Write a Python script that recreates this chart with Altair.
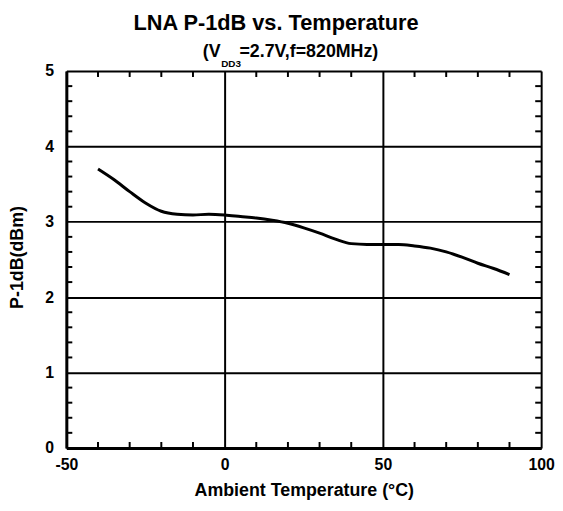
import altair as alt
import pandas as pd

temps = [-40, -35, -30, -25, -20, -15, -10, -5, 0, 5, 10, 15, 20, 25, 30, 35, 40, 45, 50, 55, 60, 65, 70, 75, 80, 85, 90]
p1db = [3.70, 3.56, 3.40, 3.25, 3.14, 3.10, 3.09, 3.10, 3.09, 3.07, 3.05, 3.02, 2.98, 2.92, 2.85, 2.77, 2.71, 2.70, 2.70, 2.70, 2.68, 2.65, 2.60, 2.53, 2.45, 2.38, 2.30]

x_major = [-50, 0, 50, 100]
y_major = [0, 1, 2, 3, 4, 5]
x_minor = [-40, -30, -20, -10, 10, 20, 30, 40, 60, 70, 80, 90]
y_minor = [0.2, 0.4, 0.6, 0.8, 1.2, 1.4, 1.6, 1.8, 2.2, 2.4, 2.6, 2.8,
           3.2, 3.4, 3.6, 3.8, 4.2, 4.4, 4.6, 4.8]

title_text = "LNA P-1dB vs. Temperature"
sub_parts = ["(V", "DD3", "=2.7V,f=820MHz)"]
x_title = "Ambient Temperature (°C)"
y_title = "P-1dB(dBm)"

FONT = "Liberation Sans"
W, H = 480, 381

df = pd.DataFrame({"t": temps, "p": p1db})
xs = alt.Scale(domain=[-50, 100], nice=False)
ys = alt.Scale(domain=[0, 5], nice=False)

x_axis = alt.Axis(values=x_major, grid=True, gridColor="black", gridWidth=2, gridOpacity=1,
                  domainColor="black", domainWidth=3, ticks=False, labelPadding=9,
                  labelExpr="'' + datum.value",
                  labelFont=FONT, labelFontSize=16, labelFontWeight="bold", labelColor="black",
                  title=x_title, titleFont=FONT, titleFontSize=18,
                  titleFontWeight="bold", titleColor="black",
                  titleX=W / 2, titleY=48, titleBaseline="alphabetic", titleAlign="center",
                  labelFlush=False, labelOverlap=False)
y_axis = alt.Axis(values=y_major, grid=True, gridColor="black", gridWidth=2, gridOpacity=1,
                  domainColor="black", domainWidth=3, ticks=False, labelPadding=13,
                  labelExpr="'' + datum.value",
                  labelFont=FONT, labelFontSize=16, labelFontWeight="bold", labelColor="black",
                  title=y_title, titleFont=FONT, titleFontSize=18,
                  titleFontWeight="bold", titleColor="black",
                  titleX=-49, titleY=188, titleAngle=270, titleBaseline="middle", titleAlign="center",
                  labelFlush=False, labelOverlap=False)

line = alt.Chart(df).mark_line(color="black", strokeWidth=3, interpolate="monotone").encode(
    x=alt.X("t:Q", scale=xs, axis=x_axis),
    y=alt.Y("p:Q", scale=ys, axis=y_axis),
)

xm = pd.DataFrame({"t": x_minor})
ym = pd.DataFrame({"p": y_minor})
tick_bottom = alt.Chart(xm).mark_rule(color="black", strokeWidth=2).encode(
    x=alt.X("t:Q", scale=xs), y=alt.value(H), y2=alt.value(H - 6))
tick_top = alt.Chart(xm).mark_rule(color="black", strokeWidth=2).encode(
    x=alt.X("t:Q", scale=xs), y=alt.value(0), y2=alt.value(6))
tick_left = alt.Chart(ym).mark_rule(color="black", strokeWidth=2).encode(
    y=alt.Y("p:Q", scale=ys), x=alt.value(0), x2=alt.value(6))
tick_right = alt.Chart(ym).mark_rule(color="black", strokeWidth=2).encode(
    y=alt.Y("p:Q", scale=ys), x=alt.value(W), x2=alt.value(W - 6))

title = alt.Chart(pd.DataFrame({"s": [title_text]})).mark_text(
    font=FONT, fontSize=22, fontWeight="bold", color="black", align="center", baseline="alphabetic"
).encode(text="s:N", x=alt.value(212), y=alt.value(-41))

sub1 = alt.Chart(pd.DataFrame({"s": [sub_parts[0]]})).mark_text(
    font=FONT, fontSize=18, fontWeight="bold", color="black", align="left", baseline="alphabetic"
).encode(text="s:N", x=alt.value(138), y=alt.value(-14))
sub2 = alt.Chart(pd.DataFrame({"s": [sub_parts[1]]})).mark_text(
    font=FONT, fontSize=10, fontWeight="bold", color="black", align="left", baseline="alphabetic"
).encode(text="s:N", x=alt.value(156.5), y=alt.value(-4))
sub3 = alt.Chart(pd.DataFrame({"s": [sub_parts[2]]})).mark_text(
    font=FONT, fontSize=18, fontWeight="bold", color="black", align="left", baseline="alphabetic"
).encode(text="s:N", x=alt.value(175), y=alt.value(-14))

chart = alt.layer(line, tick_bottom, tick_top, tick_left, tick_right, title, sub1, sub2, sub3).properties(
    width=W, height=H,
    autosize=alt.AutoSizeParams(type="none"),
    padding={"left": 59, "top": 61, "right": 14, "bottom": 56},
).configure_view(stroke="black", strokeWidth=3).configure(background="white")

chart.save("out.html", embed_options={"renderer": "svg", "actions": False})
